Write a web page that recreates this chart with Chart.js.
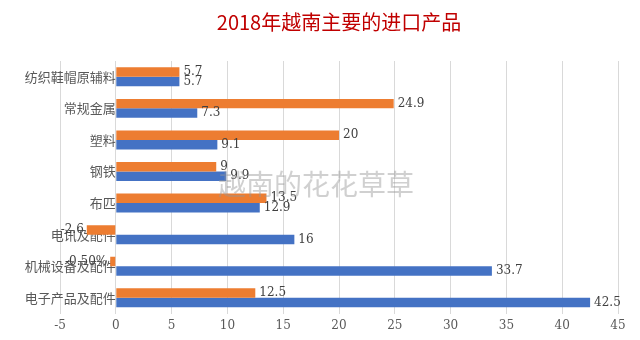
<!DOCTYPE html>
<html>
<head>
<meta charset="utf-8">
<script src="https://cdn.jsdelivr.net/npm/chart.js@4.4.0/dist/chart.umd.min.js"></script>
<style>
  html, body { margin: 0; padding: 0; background: #fff; }
  #wrap { width: 640px; height: 340px; position: relative; }
</style>
</head>
<body>
<div id="wrap"><canvas id="importChart"></canvas></div>
<script>
const categories = ["纺织鞋帽原辅料", "常规金属", "塑料", "钢铁", "布匹", "电讯及配件", "机械设备及配件", "电子产品及配件"];
const orangeValues = [5.7, 24.9, 20, 9, 13.5, -2.6, -0.5, 12.5];
const blueValues = [5.7, 7.3, 9.1, 9.9, 12.9, 16, 33.7, 42.5];
const orangeLabels = ["5.7", "24.9", "20", "9", "13.5", "-2.6", "-0.50%", "12.5"];
const blueLabels = ["5.7", "7.3", "9.1", "9.9", "12.9", "16", "33.7", "42.5"];
const xTicks = [-5, 0, 5, 10, 15, 20, 25, 30, 35, 40, 45];

const chartCanvas = document.getElementById("importChart");

// value labels next to the bar ends
const valueLabels = {
  id: "valueLabels",
  afterDatasetsDraw(chart) {
    const ctx = chart.ctx;
    const texts = [orangeLabels, blueLabels];
    ctx.save();
    ctx.font = "12px 'DejaVu Serif', 'Liberation Serif', serif";
    ctx.fillStyle = "#404040";
    ctx.textBaseline = "middle";
    chart.data.datasets.forEach((ds, i) => {
      chart.getDatasetMeta(i).data.forEach((bar, j) => {
        const v = ds.data[j];
        if (v < 0) {
          ctx.textAlign = "right";
          ctx.fillText(texts[i][j], bar.x - 3, bar.y);
        } else {
          ctx.textAlign = "left";
          ctx.fillText(texts[i][j], bar.x + 4, bar.y);
        }
      });
    });
    ctx.restore();
  },
};

// faint watermark in the middle of the plot
const watermark = {
  id: "watermark",
  afterDraw(chart) {
    const ctx = chart.ctx;
    ctx.save();
    ctx.font = "28px 'Noto Sans CJK SC'";
    ctx.fillStyle = "rgba(150,150,150,0.45)";
    ctx.textAlign = "center";
    ctx.textBaseline = "middle";
    ctx.fillText("越南的花花草草", 316, 184);
    ctx.restore();
  },
};

new Chart(chartCanvas, {
  type: "bar",
  data: {
    labels: categories,
    datasets: [
      {
        label: "orange",
        data: orangeValues,
        backgroundColor: "#ED7D31",
        categoryPercentage: 0.6,
        barPercentage: 1.0,
      },
      {
        label: "blue",
        data: blueValues,
        backgroundColor: "#4472C4",
        categoryPercentage: 0.6,
        barPercentage: 1.0,
      },
    ],
  },
  plugins: [valueLabels, watermark],
  options: {
    indexAxis: "y",
    responsive: true,
    maintainAspectRatio: false,
    animation: false,
    layout: { padding: { left: 60, right: 22, top: 0, bottom: 2 } },
    plugins: {
      legend: { display: false },
      tooltip: { enabled: false },
      title: {
        display: true,
        text: "2018年越南主要的进口产品",
        color: "#C00000",
        font: { size: 20, family: "'Noto Sans CJK SC'", weight: "normal" },
        padding: { top: 10, bottom: 27 },
      },
    },
    scales: {
      x: {
        min: -5,
        max: 45,
        afterBuildTicks: (axis) => {
          axis.ticks = xTicks.map((v) => ({ value: v }));
        },
        grid: { color: "#D9D9D9", drawTicks: false },
        border: { display: false },
        ticks: {
          color: "#595959",
          padding: 5,
          font: { size: 12, family: "'DejaVu Serif', serif" },
        },
      },
      y: {
        position: { x: 0 },
        grid: { display: false },
        border: { color: "#D9D9D9" },
        ticks: {
          color: "#595959",
          padding: 6,
          font: { size: 13, family: "'Noto Sans CJK SC'" },
        },
      },
    },
  },
});
</script>
</body>
</html>
